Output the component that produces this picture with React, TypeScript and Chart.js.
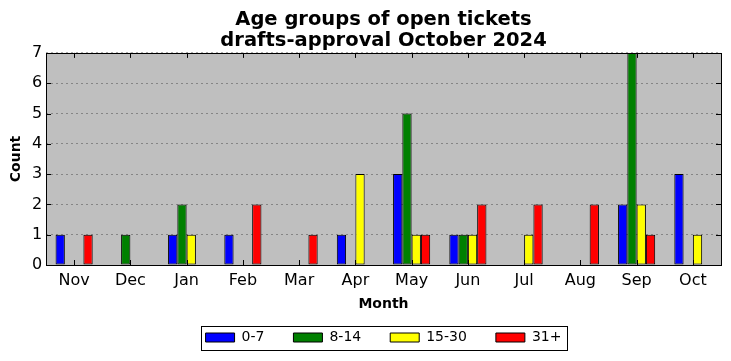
import React, { useEffect, useRef } from "react";
import { Chart, registerables } from "chart.js";

Chart.register(...registerables);

const months = ["Nov", "Dec", "Jan", "Feb", "Mar", "Apr", "May", "Jun", "Jul", "Aug", "Sep", "Oct"];
const age0to7 = [1, 0, 1, 1, 0, 1, 3, 1, 0, 0, 2, 3];
const age8to14 = [0, 1, 2, 0, 0, 0, 5, 1, 0, 0, 7, 0];
const age15to30 = [0, 0, 1, 0, 0, 3, 1, 1, 1, 0, 2, 1];
const age31plus = [1, 0, 0, 2, 1, 0, 1, 2, 2, 2, 1, 0];
const seriesLabels = ["0-7", "8-14", "15-30", "31+"];
const seriesColors = ["#0000ff", "#008000", "#ffff00", "#ff0000"];
const titleLines = ["Age groups of open tickets", "drafts-approval October 2024"];
const yMax = 7;

const FONT = "'DejaVu Sans', sans-serif";

const framePlugin = {
  id: "mplFrame",
  beforeDraw(chart: any) {
    const { ctx, chartArea: a } = chart;
    ctx.save();
    ctx.fillStyle = "#bfbfbf";
    ctx.fillRect(a.left, a.top, a.right - a.left, a.bottom - a.top);
    ctx.restore();
  },
  afterDatasetsDraw(chart: any) {
    const { ctx, chartArea: a, scales } = chart;
    ctx.save();
    ctx.setLineDash([]);
    ctx.strokeStyle = "#000";
    ctx.lineWidth = 1;
    const tl = 5;
    ctx.beginPath();
    scales.x.ticks.forEach((_t: any, i: number) => {
      const x = Math.round(scales.x.getPixelForTick(i)) + 0.5;
      ctx.moveTo(x, a.bottom);
      ctx.lineTo(x, a.bottom - tl);
      ctx.moveTo(x, a.top);
      ctx.lineTo(x, a.top + tl);
    });
    scales.y.ticks.forEach((t: any) => {
      const y = Math.round(scales.y.getPixelForValue(t.value)) + 0.5;
      ctx.moveTo(a.left, y);
      ctx.lineTo(a.left + tl, y);
      ctx.moveTo(a.right, y);
      ctx.lineTo(a.right - tl, y);
    });
    ctx.stroke();
    ctx.strokeRect(Math.round(a.left) + 0.5, Math.round(a.top) + 0.5, Math.round(a.right - a.left), Math.round(a.bottom - a.top));
    ctx.restore();
  },
  afterDraw(chart: any) {
    const lg = chart.legend;
    if (!lg || !lg.legendHitBoxes || !lg.legendHitBoxes.length) return;
    const hb = lg.legendHitBoxes;
    const left = Math.min(...hb.map((h: any) => h.left));
    const right = Math.max(...hb.map((h: any) => h.left + h.width));
    const cy = hb[0].top + hb[0].height / 2;
    const { ctx } = chart;
    ctx.save();
    ctx.setLineDash([]);
    ctx.strokeStyle = "#000";
    ctx.lineWidth = 1;
    ctx.strokeRect(Math.round(left - 5) + 0.5, Math.round(cy - 12) + 0.5, Math.round(right - left + 10), 24);
    ctx.restore();
  },
};

export default function App() {
  const ref = useRef<HTMLCanvasElement | null>(null);

  useEffect(() => {
    if (!ref.current) return;
    Chart.defaults.font.family = FONT;
    Chart.defaults.color = "#000";
    const seriesData = [age0to7, age8to14, age15to30, age31plus];
    const chart = new Chart(ref.current, {
      type: "bar",
      data: {
        labels: months,
        datasets: seriesData.map((d, i) => ({
          label: seriesLabels[i],
          data: d,
          backgroundColor: seriesColors[i],
          borderColor: "#000",
          borderWidth: 1,
          borderSkipped: false,
          categoryPercentage: 0.66,
          barPercentage: 1,
        })),
      },
      options: {
        responsive: false,
        animation: false,
        devicePixelRatio: 1,
        layout: { padding: { left: 46, right: 10, top: 0, bottom: 6.5 } },
        plugins: {
          title: {
            display: true,
            text: titleLines,
            color: "#000",
            font: { family: FONT, size: 19.5, weight: "bold", lineHeight: 1.1 },
            padding: { top: 9, bottom: 1 },
          },
          legend: {
            display: true,
            position: "bottom",
            labels: {
              color: "#000",
              font: { family: FONT, size: 14 },
              boxWidth: 29,
              boxHeight: 9,
              padding: 29,
            },
          },
          tooltip: { enabled: false },
        },
        scales: {
          x: {
            type: "category",
            offset: true,
            grid: { display: false, drawTicks: false },
            border: { display: false },
            ticks: { color: "#000", font: { family: FONT, size: 16 }, padding: 6, maxRotation: 0 },
            title: {
              display: true,
              text: "Month",
              color: "#000",
              font: { family: FONT, size: 14, weight: "bold", lineHeight: 1.2 },
              padding: { top: 0, bottom: -11 },
            },
            afterFit: (s: any) => {
              s.height = 36.5;
            },
          },
          y: {
            min: 0,
            max: yMax,
            grid: { display: true, drawTicks: false, color: "rgba(0,0,0,0.3)", lineWidth: 1 },
            border: { display: false, dash: [2, 3] },
            ticks: {
              stepSize: 1,
              color: "#000",
              font: { family: FONT, size: 16 },
              mirror: true,
              crossAlign: "far",
              padding: -14,
            },
            title: {
              display: true,
              text: "Count",
              color: "#000",
              font: { family: FONT, size: 14, weight: "bold", lineHeight: 1.2 },
              padding: { top: -38.4, bottom: 0 },
            },
            afterFit: (s: any) => {
              s.width = 0;
            },
          },
        },
      } as any,
      plugins: [framePlugin],
    });
    return () => chart.destroy();
  }, []);

  return (
    <div style={{ position: "absolute", left: 0, top: 0, width: 731, height: 361, background: "#fff" }}>
      <canvas ref={ref} width={731} height={361} style={{ display: "block" }} />
    </div>
  );
}
